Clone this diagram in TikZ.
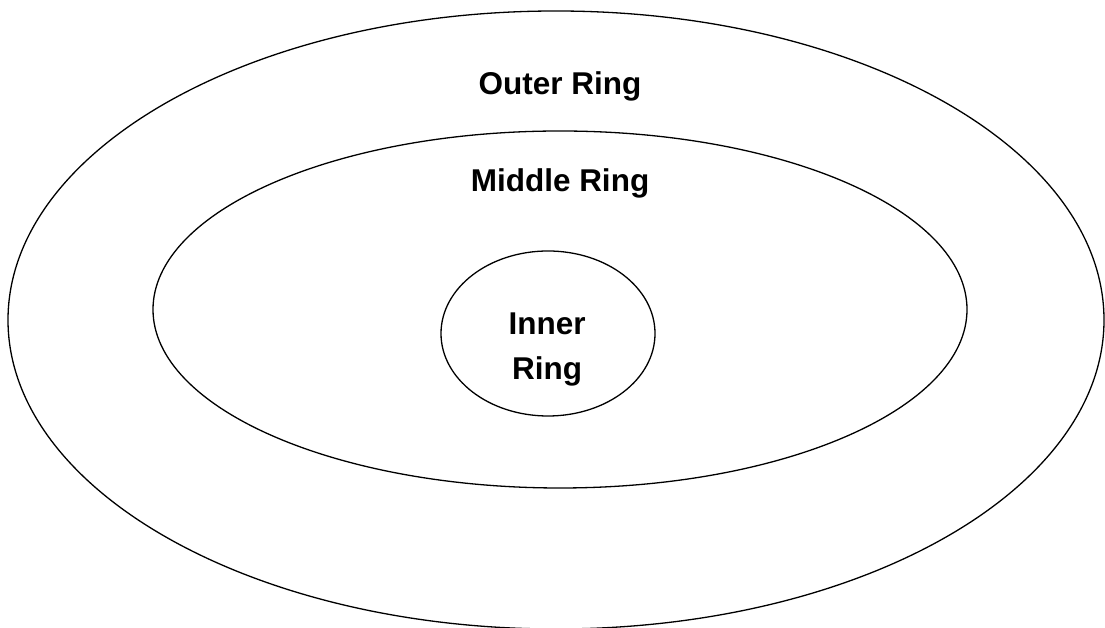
\documentclass[tikz,border=0pt]{standalone}
\usepackage{fontspec}
\setmainfont{Liberation Sans}
\usetikzlibrary{shapes.geometric}
\begin{document}
\begin{tikzpicture}[x=1pt,y=1pt,
  ring/.style={draw=black, line width=1.3pt, ellipse, inner sep=0pt},
  label/.style={font=\fontsize{31.5}{45}\selectfont\bfseries, anchor=base, inner sep=0pt}]
  \useasboundingbox (0,0) rectangle (1105,628);
  \clip (0,0) rectangle (1105,628);
  % three nested rings
  \node[ring, minimum width=1096pt, minimum height=618pt] (outer) at (556,308) {};
  \node[ring, minimum width=814pt, minimum height=357pt] (middle) at (560,318.5) {};
  \node[ring, minimum width=214pt, minimum height=165pt] (inner) at (548,294.5) {};
  % ring names
  \node[label] (outerlbl) at (560,533) {Outer Ring};
  \node[label] (middlelbl) at (560,436) {Middle Ring};
  \node[label] (innerlbl1) at (547,293) {Inner};
  \node[label] (innerlbl2) at (547,248) {Ring};
\end{tikzpicture}
\end{document}
